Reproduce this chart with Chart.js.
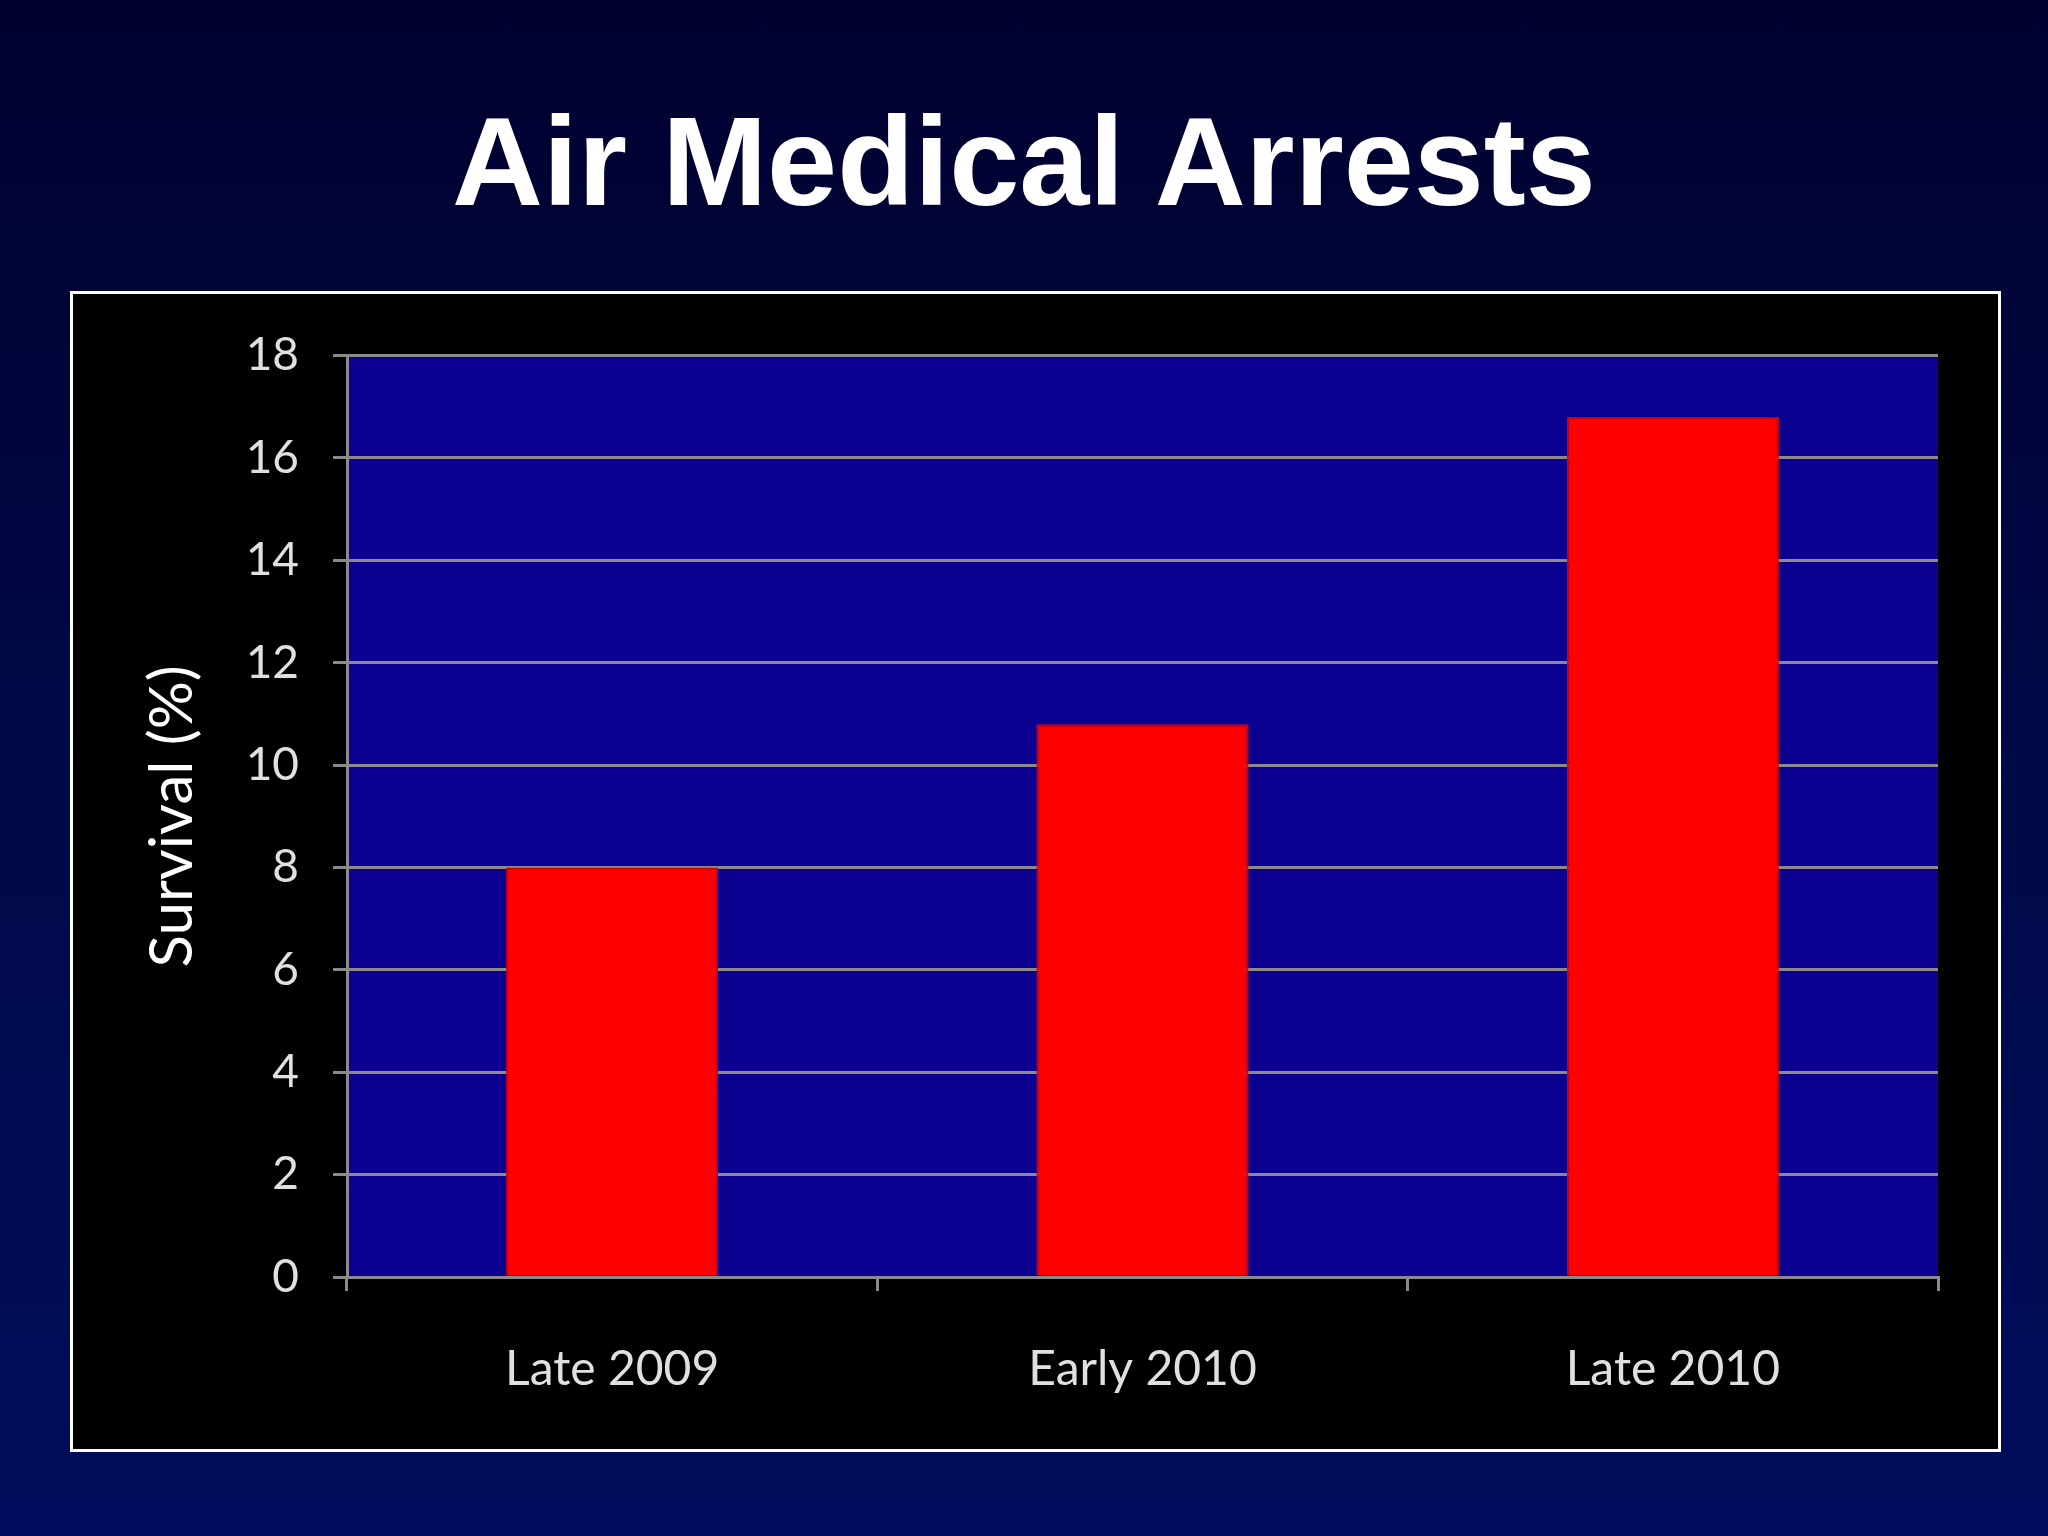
<!DOCTYPE html>
<html><head><meta charset="utf-8">
<script src="https://cdn.jsdelivr.net/npm/chart.js@4"></script>
<style>
html,body{margin:0;padding:0;width:2048px;height:1536px;overflow:hidden;
background:linear-gradient(#00002e 0%,#000a48 50%,#000c5c 100%);}
h1{position:absolute;left:0;top:92px;width:2048px;margin:0;text-align:center;color:#fff;
font:bold 126px "Liberation Sans",Arial,sans-serif;line-height:140px;}
#box{position:absolute;left:70px;top:291px;width:1925px;height:1155px;border:3px solid #fff;background:#000;}
canvas{display:block;}
</style></head><body>
<h1>Air Medical Arrests</h1>
<div id="box"><canvas id="c" width="1925" height="1155"></canvas></div>
<script>
const categories=["Late 2009","Early 2010","Late 2010"];
const survival=[8.0,10.8,16.8];
const yTicks=[0,2,4,6,8,10,12,14,16,18];
const plotBg={id:'plotBg',beforeDraw(ch){const a=ch.chartArea,c=ch.ctx;c.save();c.fillStyle='#0c0090';c.fillRect(a.left,a.top,a.right-a.left,a.bottom-a.top);c.restore();}};
new Chart(document.getElementById('c'),{type:'bar',
data:{labels:categories,datasets:[{data:survival,backgroundColor:'#ff0000',borderColor:'#d40000',borderWidth:2,barPercentage:0.4,categoryPercentage:1}]},
options:{responsive:false,animation:false,devicePixelRatio:1,
layout:{padding:{left:60,top:60,right:60,bottom:0}},
plugins:{legend:{display:false},tooltip:{enabled:false}},
scales:{
y:{min:0,max:18,afterFit(s){s.width=214;},afterBuildTicks(s){s.ticks=yTicks.map(v=>({value:v}));},
 ticks:{color:'#e0e0e0',font:{family:'Lato, "Open Sans", sans-serif',size:46},padding:34},
 grid:{color:'#8a8a8a',lineWidth:3,tickLength:14},border:{color:'#8a8a8a',width:3},
 title:{display:true,text:'Survival (%)',color:'#fff',font:{family:'Lato, "Open Sans", sans-serif',size:60},padding:{bottom:4}}},
x:{afterFit(s){s.height=172;},ticks:{color:'#e0e0e0',font:{family:'Lato, "Open Sans", sans-serif',size:48},padding:50},
 grid:{drawOnChartArea:false,color:'#8a8a8a',lineWidth:3,tickLength:14,offset:true},border:{color:'#8a8a8a',width:3}}
}},plugins:[plotBg]});
</script></body></html>
